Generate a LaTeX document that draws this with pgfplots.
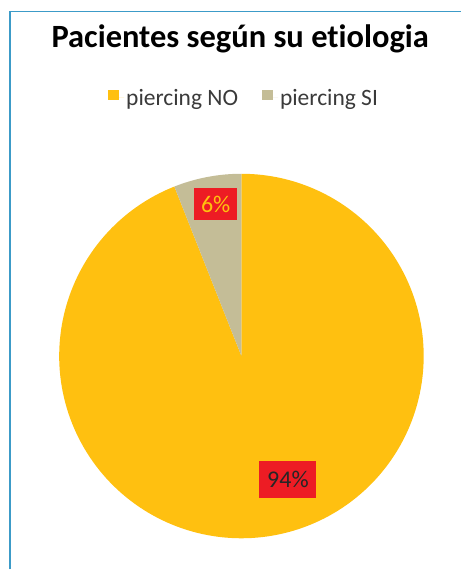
\documentclass[border=0pt]{standalone}
\usepackage{pgfplots}
\pgfplotsset{compat=1.18}
\usepackage{pgfplotstable}
\usepackage{fontspec}
\setmainfont{Carlito}[Ligatures={NoCommon}]
\definecolor{pieNO}{HTML}{FFC010}
\definecolor{pieSI}{HTML}{C4BD97}
\definecolor{labred}{HTML}{ED1C24}
\definecolor{labyel}{HTML}{FFC20E}
\definecolor{framec}{HTML}{3C9BC8}
\definecolor{legtext}{HTML}{3A3A3A}
\pgfplotstableread{
label value
NO 94
SI 6
}\piedata
\begin{document}
\begin{tikzpicture}
\pgfplotstablegetelem{0}{value}\of\piedata \let\vNO\pgfplotsretval
\pgfplotstablegetelem{1}{value}\of\piedata \let\vSI\pgfplotsretval
\pgfmathsetmacro{\aSI}{90+3.6*\vSI}
\pgfmathsetmacro{\aEnd}{\aSI+3.6*\vNO}
\begin{axis}[
  scale only axis, width=462bp, height=570bp,
  xmin=0, xmax=462, ymin=0, ymax=570,
  hide axis, clip=false,
  legend columns=2,
  legend style={at={(axis description cs:0.529,0.828)}, anchor=center,
    draw=none, fill=none, text=legtext,
    font=\fontsize{23.5bp}{28bp}\selectfont,
    /tikz/every even column/.append style={column sep=22bp}},
  legend image code/.code={\fill[#1] (0bp,-2.5bp) rectangle (11bp,8bp); \path (0bp,0bp) -- (16bp,0bp);},
]
\path (axis cs:0,0) rectangle (axis cs:462,570);
\addplot[fill=pieNO, draw=none, domain=\aSI:\aEnd, samples=200, variable=\t]
  ({241.75+182.5*cos(\t)},{213.5+182.5*sin(\t)}) -- (axis cs:241.75,213.5) -- cycle;
\addlegendentry{piercing NO}
\addplot[fill=pieSI, draw=none, domain=90:\aSI, samples=30, variable=\t]
  ({241.75+182.5*cos(\t)},{213.5+182.5*sin(\t)}) -- (axis cs:241.75,213.5) -- cycle;
\addlegendentry{piercing SI}
\draw[framec, line width=1.5bp] (axis cs:10,0) -- (axis cs:10,558.3) -- (axis cs:462,558.3);
\node[anchor=base, font=\fontsize{32.5bp}{38bp}\selectfont\bfseries] at (axis cs:240.5,522) {Pacientes según su etiologia};
\node[fill=labred, text=labyel, minimum width=43bp, minimum height=32bp, inner sep=0pt,
  font=\fontsize{24bp}{28bp}\selectfont] at (axis cs:216,365.5) {6\%};
\node[fill=labred, text=black!85, minimum width=57bp, minimum height=37bp, inner sep=0pt,
  font=\fontsize{24bp}{28bp}\selectfont] at (axis cs:288.3,90) {94\%};
\end{axis}
\end{tikzpicture}
\end{document}
